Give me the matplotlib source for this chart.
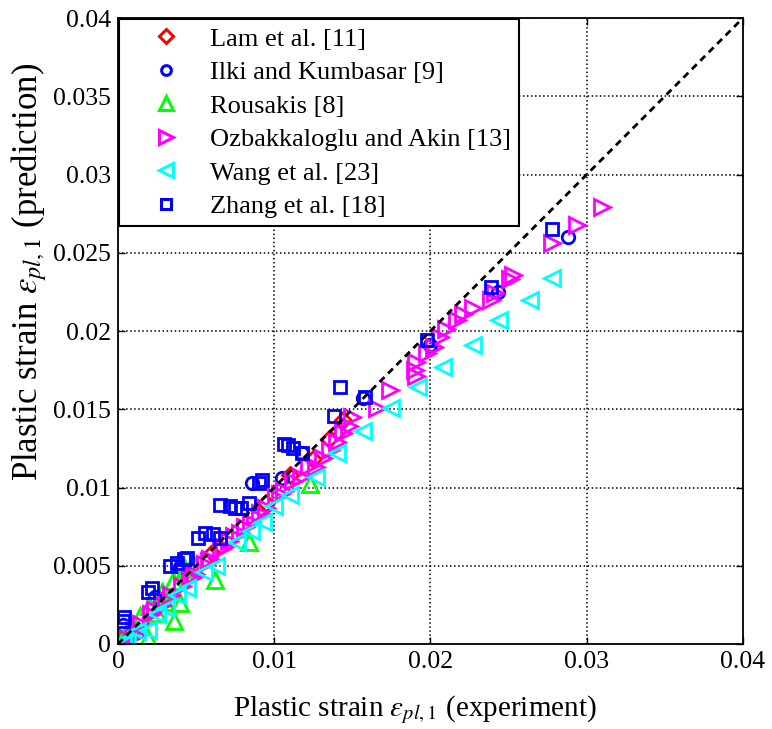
import matplotlib
matplotlib.use("Agg")
import matplotlib.pyplot as plt
from matplotlib.lines import Line2D

plt.rcParams['font.family'] = ['Liberation Serif', 'DejaVu Serif']
plt.rcParams['mathtext.fontset'] = 'stix'

# ---- data (experiment, prediction) ----
lam_x = [0.0095, 0.0141, 0.0144, 0.0125, 0.0110, 0.0060, 0.0030, 0.0010, 0.0002, 0.0135]
lam_y = [0.0090, 0.0136, 0.0143, 0.0118, 0.0108, 0.0058, 0.0029, 0.0009, 0.0001, 0.0131]

ilki_x = [0.0288, 0.0243, 0.0200, 0.0157, 0.0118, 0.0105, 0.0086, 0.0001, 0.0003, 0.0008, 0.0024, 0.0040]
ilki_y = [0.0260, 0.0225, 0.0191, 0.0157, 0.0122, 0.0106, 0.0103, 0.0003, 0.0012, 0.0006, 0.0030, 0.0049]

rous_x = [0.0123, 0.0084, 0.0062, 0.0040, 0.0036, 0.0019, 0.0002, 0.0010, 0.0020, 0.0028, 0.0035,
          0.0043, 0.0048, 0.0014, 0.0006, 0.0025, 0.0030, 0.0005]
rous_y = [0.0102, 0.0065, 0.0041, 0.0026, 0.0015, 0.0004, 0.0001, 0.0012, 0.0024, 0.0033, 0.0040,
          0.0048, 0.0052, 0.0018, 0.0008, 0.0020, 0.0027, 0.0000]

ozb_x = [0.0310, 0.0294, 0.0278, 0.0253, 0.0251, 0.0241, 0.0239, 0.0227, 0.0221, 0.0217, 0.0210,
         0.0206, 0.0202, 0.0198, 0.0191, 0.0190, 0.0191, 0.0174, 0.0166, 0.0150, 0.0148, 0.0144,
         0.0140, 0.0136, 0.0131, 0.0127, 0.0122, 0.0117, 0.0112, 0.0106, 0.0101, 0.0095, 0.0091,
         0.0085, 0.0081, 0.0074, 0.0071, 0.0066, 0.0059, 0.0056, 0.0049, 0.0046, 0.0041, 0.0034,
         0.0031, 0.0024, 0.0021, 0.0015, 0.0011, 0.0005, 0.0104, 0.0088, 0.0068, 0.0048, 0.0028,
         0.0012, 0.0078, 0.0058]
ozb_y = [0.0279, 0.0268, 0.0256, 0.0236, 0.0233, 0.0224, 0.0220, 0.0215, 0.0211, 0.0207, 0.0201,
         0.0196, 0.0190, 0.0186, 0.0180, 0.0175, 0.0171, 0.0162, 0.0151, 0.0145, 0.0139, 0.0135,
         0.0129, 0.0124, 0.0119, 0.0113, 0.0114, 0.0107, 0.0104, 0.0098, 0.0094, 0.0087, 0.0084,
         0.0078, 0.0075, 0.0069, 0.0066, 0.0061, 0.0054, 0.0051, 0.0045, 0.0042, 0.0037, 0.0031,
         0.0029, 0.0022, 0.0019, 0.0013, 0.0009, 0.0004, 0.0096, 0.0082, 0.0062, 0.0043, 0.0025,
         0.0006, 0.0071, 0.0053]

wang_x = [0.0278, 0.0264, 0.0244, 0.0227, 0.0208, 0.0192, 0.0175, 0.0157, 0.0140, 0.0127, 0.0110,
          0.0100, 0.0093, 0.0085, 0.0076, 0.0063, 0.0055, 0.0044, 0.0038, 0.0031, 0.0025, 0.0019,
          0.0012, 0.0006, 0.0003]
wang_y = [0.0234, 0.0220, 0.0207, 0.0191, 0.0177, 0.0164, 0.0151, 0.0136, 0.0122, 0.0107, 0.0095,
          0.0088, 0.0078, 0.0072, 0.0065, 0.0050, 0.0046, 0.0036, 0.0031, 0.0023, 0.0019, 0.0009,
          0.0008, 0.0001, 0.0002]

zhang_x = [0.0278, 0.0239, 0.0198, 0.0142, 0.0158, 0.0138, 0.0106, 0.0109, 0.0112, 0.0118, 0.0090,
           0.0092, 0.0065, 0.0072, 0.0075, 0.0079, 0.0084, 0.0051, 0.0056, 0.0061, 0.0065, 0.0042,
           0.0033, 0.0038, 0.0044, 0.0019, 0.0022, 0.0004, 0.0003]
zhang_y = [0.0265, 0.0228, 0.0194, 0.0164, 0.0158, 0.0146, 0.0128, 0.0127, 0.0125, 0.0122, 0.0103,
           0.0105, 0.0089, 0.0088, 0.0087, 0.0087, 0.0090, 0.0068, 0.0071, 0.0070, 0.0068, 0.0054,
           0.0050, 0.0052, 0.0055, 0.0033, 0.0036, 0.0017, 0.0015]

# label, x, y, marker, colour, plot size, legend size
series = [
    ("Lam et al. [11]", lam_x, lam_y, 'D', '#FF0000', 8, 7),
    ("Ilki and Kumbasar [9]", ilki_x, ilki_y, 'o', '#0000FF', 9, 7),
    ("Rousakis [8]", rous_x, rous_y, '^', '#00FF00', 11, 10),
    ("Ozbakkaloglu and Akin [13]", ozb_x, ozb_y, '>', '#FF00FF', 11, 10),
    ("Wang et al. [23]", wang_x, wang_y, '<', '#00FFFF', 11, 10),
    ("Zhang et al. [18]", zhang_x, zhang_y, 's', '#0000FF', 9, 7),
]

fig = plt.figure(figsize=(7.72, 7.29), dpi=100)
ax = fig.add_axes([0.1528, 0.1166, 0.8096, 0.8587])

handles = []
for label, xs, ys, m, c, ms, lms in series:
    ax.plot(xs, ys, linestyle='none', marker=m, markersize=ms, markerfacecolor='none',
            markeredgecolor=c, markeredgewidth=2.0)
    handles.append(Line2D([], [], linestyle='none', marker=m, markersize=lms,
                          markerfacecolor='none', markeredgecolor=c, markeredgewidth=2.2,
                          label=label))

ax.plot([0, 0.04], [0, 0.04], linestyle=(0, (2.5, 1.8)), color='black', linewidth=2.0)

ax.set_xlim(0, 0.04)
ax.set_ylim(0, 0.04)
ax.set_xticks([0, 0.01, 0.02, 0.03, 0.04])
ax.set_xticklabels(['0', '0.01', '0.02', '0.03', '0.04'])
ax.set_yticks([0, 0.005, 0.01, 0.015, 0.02, 0.025, 0.03, 0.035, 0.04])
ax.set_yticklabels(['0', '0.005', '0.01', '0.015', '0.02', '0.025', '0.03', '0.035', '0.04'])
ax.tick_params(direction='in', top=True, right=True, labelsize=18.5, length=5, width=1, pad=5)
ax.grid(True, linestyle=':', color='black', linewidth=1.1)
for s in ax.spines.values():
    s.set_linewidth(1.3)

ax.set_xlabel(r'Plastic strain $\varepsilon_{pl,1}$ (experiment)', fontsize=21)
ax.xaxis.set_label_coords(0.475, -0.079)
ax.set_ylabel(r'Plastic strain $\varepsilon_{pl,1}$ (prediction)', fontsize=25)
ax.yaxis.set_label_coords(-0.110, 0.594)

leg = ax.legend(handles=handles, loc='upper left', fontsize=19, frameon=True, fancybox=False,
                edgecolor='black', framealpha=1.0, borderaxespad=0.05, handletextpad=0.2,
                labelspacing=0.38, borderpad=0.3, handlelength=2.95)
leg.get_frame().set_linewidth(1.5)

fig.savefig('out.png', dpi=100)
